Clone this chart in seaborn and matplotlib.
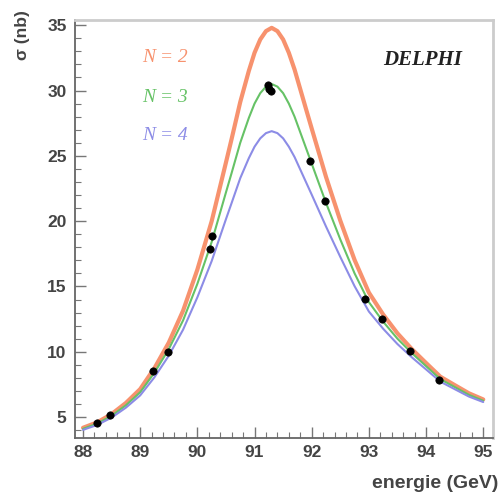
import numpy as np
import pandas as pd
import matplotlib
matplotlib.use("Agg")
import matplotlib.pyplot as plt
from matplotlib.ticker import MultipleLocator
import seaborn as sns

# curves (sigma in nb vs energy in GeV)
energie = [88.0, 88.25, 88.5, 88.75, 89.0, 89.25, 89.5, 89.75, 90.0, 90.25,
           90.5, 90.6, 90.75, 90.9, 91.0, 91.1, 91.2, 91.3, 91.4, 91.5,
           91.6, 91.7, 91.8, 91.9, 92.0, 92.25, 92.5, 92.75, 93.0, 93.25,
           93.5, 93.75, 94.0, 94.25, 94.5, 94.75, 95.0]
sigma_n2 = [4.18, 4.60, 5.23, 6.08, 7.14, 8.75, 10.70, 13.14, 16.29, 19.99,
            24.49, 26.31, 29.12, 31.50, 32.89, 33.91, 34.55, 34.80, 34.55, 33.91,
            32.89, 31.61, 30.10, 28.59, 27.09, 23.39, 20.04, 17.03, 14.53, 12.85,
            11.41, 10.21, 9.14, 8.09, 7.45, 6.82, 6.35]
sigma_n3 = [4.10, 4.50, 5.10, 5.90, 6.90, 8.40, 10.20, 12.40, 15.20, 18.40,
            22.20, 23.70, 26.00, 27.90, 29.00, 29.80, 30.30, 30.50, 30.30, 29.80,
            29.00, 28.00, 26.80, 25.60, 24.40, 21.40, 18.60, 16.00, 13.80, 12.30,
            11.00, 9.90, 8.90, 7.90, 7.30, 6.70, 6.25]
sigma_n4 = [4.02, 4.40, 4.96, 5.72, 6.66, 8.05, 9.70, 11.69, 14.17, 16.94,
            20.15, 21.40, 23.29, 24.82, 25.70, 26.34, 26.74, 26.89, 26.74, 26.34,
            25.70, 24.91, 23.95, 22.99, 22.03, 19.59, 17.26, 15.02, 13.08, 11.76,
            10.59, 9.58, 8.65, 7.71, 7.14, 6.57, 6.15]

# DELPHI measurements
data_e = [88.24, 88.47, 89.23, 89.48, 90.22, 90.25, 91.23, 91.25, 91.28,
          91.97, 92.24, 92.94, 93.23, 93.72, 94.22]
data_s = [4.52, 5.15, 8.53, 9.98, 17.88, 18.90, 30.45, 30.15, 29.95,
          24.60, 21.56, 14.06, 12.50, 10.06, 7.82]

labels = ["N=2", "N=3", "N=4"]
textes = ["N = 2", "N = 3", "N = 4"]
couleurs = {"N=2": "#f7926e", "N=3": "#66c266", "N=4": "#8c8ce6"}
epaisseurs = {"N=2": 3.0, "N=3": 1.5, "N=4": 1.5}

df = pd.concat([
    pd.DataFrame({"energie": energie, "sigma": s, "N": lab})
    for s, lab in zip([sigma_n2, sigma_n3, sigma_n4], labels)
])
df_pts = pd.DataFrame({"energie": data_e, "sigma": data_s})

sns.set_theme(style="ticks")
plt.rcParams["font.family"] = ["Liberation Sans", "DejaVu Sans"]

fig = plt.figure(figsize=(5.02, 4.94), dpi=100)
ax = fig.add_axes([0.1494, 0.1134, 0.8326, 0.8461])

for lab in labels:
    sns.lineplot(data=df[df["N"] == lab], x="energie", y="sigma", ax=ax,
                 color=couleurs[lab], linewidth=epaisseurs[lab],
                 estimator=None, sort=True, legend=False)
sns.scatterplot(data=df_pts, x="energie", y="sigma", ax=ax, color="black",
                s=28, edgecolor="black", linewidth=0.5, zorder=5, legend=False)

ax.set_xlim(87.86, 95.17)
ax.set_ylim(3.4, 35.4)
ax.xaxis.set_major_locator(MultipleLocator(1))
ax.xaxis.set_minor_locator(MultipleLocator(0.2))
ax.yaxis.set_major_locator(MultipleLocator(5))
ax.yaxis.set_minor_locator(MultipleLocator(1))
ax.set_yticks([5, 10, 15, 20, 25, 30, 35])
ax.tick_params(which="both", direction="in", color="#777777")
ax.tick_params(which="major", length=8, width=1.0)
ax.tick_params(which="minor", length=4, width=0.8)
ax.tick_params(axis="y", pad=6)
ax.tick_params(axis="x", pad=5)
for t in ax.get_xticklabels() + ax.get_yticklabels():
    t.set_fontsize(12.5)
    t.set_fontweight("bold")
    t.set_color("#444444")
ax.set_xlabel("")
ax.set_ylabel("")

for side in ["left", "bottom"]:
    ax.spines[side].set_color("#666666")
    ax.spines[side].set_linewidth(1.3)
for side in ["top", "right"]:
    ax.spines[side].set_visible(True)
    ax.spines[side].set_color("#cccccc")
    ax.spines[side].set_linewidth(2.0)

# legend labels written in the plot
ypos = [58, 98, 135]
for lab, txt, yp in zip(labels, textes, ypos):
    fig.text(142 / 502, 1 - yp / 494, txt, color=couleurs[lab], fontsize=14,
             style="italic", family=["Liberation Serif", "DejaVu Serif"],
             ha="left", va="center")
fig.text(462 / 502, 1 - 60 / 494, "DELPHI", fontsize=15, style="italic",
         weight="bold", family=["Liberation Serif", "DejaVu Serif"],
         color="#222222", ha="right", va="center")

fig.text(23 / 502, 1 - 10 / 494, "σ (nb)", rotation=90, fontsize=12.5,
         weight="bold", color="#444444", ha="center", va="top")
fig.text(498 / 502, 1 - 483 / 494, "energie (GeV)", fontsize=14,
         weight="bold", color="#444444", ha="right", va="center")

fig.savefig("out.png", dpi=100)
